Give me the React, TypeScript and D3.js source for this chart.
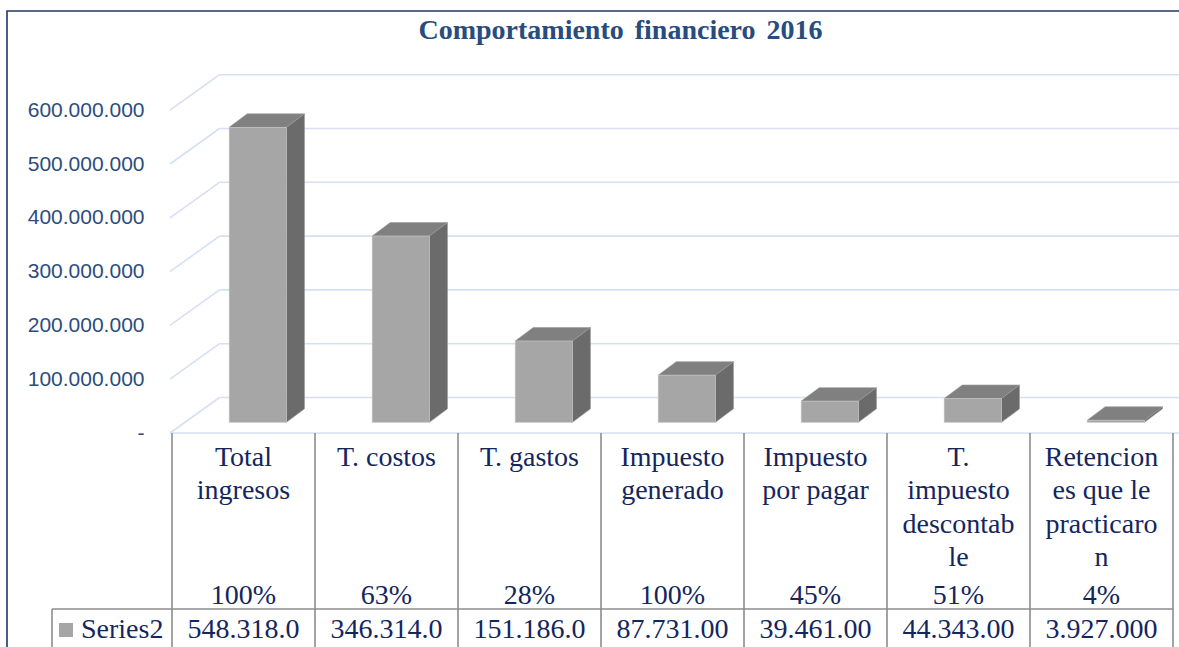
import React from "react";
import * as d3 from "d3";

const categoryLabels = [
  "Total\ningresos",
  "T. costos",
  "T. gastos",
  "Impuesto\ngenerado",
  "Impuesto\npor pagar",
  "T.\nimpuesto\ndescontab\nle",
  "Retencion\nes que le\npracticaro\nn",
];
const seriesValues = [548318000, 346314000, 151186000, 87731000, 39461000, 44343000, 3927000];
const percentLabels = ["100%", "63%", "28%", "100%", "45%", "51%", "4%"];
const yTicks = [0, 100000000, 200000000, 300000000, 400000000, 500000000, 600000000];
const seriesName = "Series2";
const title = "Comportamiento financiero 2016";

const W = 1179;
const H = 647;
const floorY = 433;
const plotLeft = 172;
const plotRight = 1173;
const depth = { dx: 47.5, dy: -35.5 };
const barDepthFront = 0.3;
const barDepthBack = 0.68;

const fmt = (v: number) => (v === 0 ? "-" : d3.format(",")(v).replace(/,/g, "."));

export default function App() {
  const x = d3.scaleBand<number>().domain(d3.range(categoryLabels.length)).range([plotLeft, plotRight]).padding(0);
  const y = d3.scaleLinear().domain([0, 600000000]).range([floorY, floorY - 6 * 53.8]);
  const step = x.step();
  const bw = step * 0.4;

  const navy = "#13265E";
  const serif = "'Liberation Serif', 'Times New Roman', serif";

  return (
    <svg width={W} height={H} style={{ position: "absolute", left: 0, top: 0, background: "#fff" }}>
      {/* frame */}
      <path d={`M7,${H + 2} L7,11 L${W + 2},11`} fill="none" stroke="#1F3864" strokeWidth={1.6} />
      {/* title */}
      <text x={620.5} y={39} textAnchor="middle" fontFamily={serif} fontWeight="bold" fontSize={28} wordSpacing={4} fill="#284C7E">
        {title}
      </text>
      {/* gridlines */}
      {yTicks.map((t) => {
        const yf = y(t);
        const bx = plotLeft + depth.dx;
        const by = yf + depth.dy;
        return (
          <g key={t}>
            <line x1={plotLeft - 2} y1={yf} x2={bx} y2={by} stroke="#D6E0F2" strokeWidth={1.6} />
            <line x1={bx} y1={by} x2={W + 60} y2={by} stroke="#D6E0F2" strokeWidth={1.6} />
          </g>
        );
      })}
      {/* floor front edge */}
      <line x1={plotLeft} y1={floorY} x2={W + 10} y2={floorY} stroke="#D6E0F2" strokeWidth={1.6} />
      {/* y labels */}
      {yTicks.map((t) => (
        <text key={"l" + t} x={144.5} y={y(t) + 1} textAnchor="end" dominantBaseline="middle" fontFamily="'Liberation Sans', Arial, sans-serif" fontSize={21} fill="#2B4C7E">
          {fmt(t)}
        </text>
      ))}
      {/* bars */}
      {seriesValues.map((v, i) => {
        const cx = (x(i) as number) + step / 2;
        const x0 = cx - bw / 2 + depth.dx * barDepthFront;
        const x1 = x0 + bw;
        const yb = y(0) + depth.dy * barDepthFront;
        const yt = y(v) + depth.dy * barDepthFront;
        const ddx = depth.dx * (barDepthBack - barDepthFront);
        const ddy = depth.dy * (barDepthBack - barDepthFront);
        return (
          <g key={"b" + i}>
            <path d={`M${x1},${yb} L${x1 + ddx},${yb + ddy} L${x1 + ddx},${yt + ddy} L${x1},${yt} Z`} fill="#6B6B6B" stroke="#8a8a8a" strokeWidth={0.6} />
            <path d={`M${x0},${yt} L${x0 + ddx},${yt + ddy} L${x1 + ddx},${yt + ddy} L${x1},${yt} Z`} fill="#808080" stroke="#9a9a9a" strokeWidth={0.6} />
            <rect x={x0} y={yt} width={bw} height={Math.max(0, yb - yt)} fill="#A6A6A6" stroke="#C8C8C8" strokeWidth={0.6} />
          </g>
        );
      })}
      {/* table */}
      <g stroke="#8C8C8C" strokeWidth={1.6}>
        {d3.range(categoryLabels.length + 1).map((i) => {
          const xx = plotLeft + i * step;
          return <line key={"v" + i} x1={xx} y1={floorY} x2={xx} y2={H + 2} />;
        })}
        <line x1={52} y1={609} x2={plotRight} y2={609} />
        <line x1={52} y1={609} x2={52} y2={H + 2} />
      </g>
      {categoryLabels.map((lab, i) => {
        const cx = (x(i) as number) + step / 2;
        return (
          <g key={"c" + i} fontFamily={serif} fontSize={28} fill={navy} textAnchor="middle">
            {lab.split("\n").map((ln, j) => (
              <text key={j} x={cx} y={466 + j * 33.3}>
                {ln}
              </text>
            ))}
            <text x={cx} y={603.5}>{percentLabels[i]}</text>
            <text x={cx} y={638}>{fmt(seriesValues[i]).slice(0, 9)}</text>
          </g>
        );
      })}
      <rect x={59} y={623} width={14} height={14} fill="#A6A6A6" />
      <text x={81} y={638} fontFamily={serif} fontSize={28} fill={navy}>
        {seriesName}
      </text>
    </svg>
  );
}
